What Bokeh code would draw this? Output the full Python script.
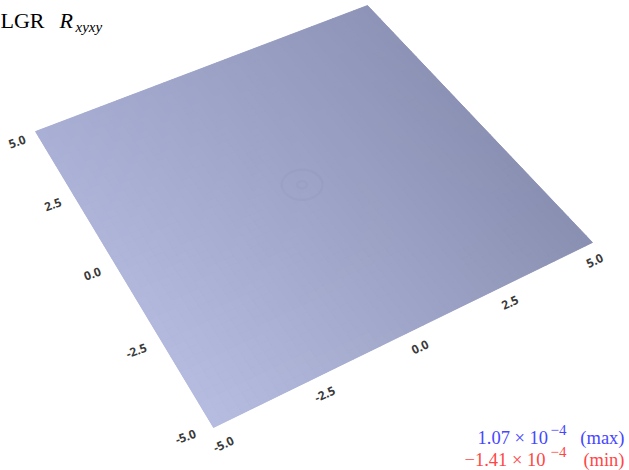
import numpy as np
from bokeh.plotting import figure
from bokeh.models import Range1d
from bokeh.core.properties import value
from bokeh.embed import file_html
from bokeh.resources import INLINE

W, H = 629, 470

# ---------------- data ----------------
x_ticks = [-5.0, -2.5, 0.0, 2.5, 5.0]
y_ticks = [-5.0, -2.5, 0.0, 2.5, 5.0]
x_tick_labels = ["-5.0", "-2.5", "0.0", "2.5", "5.0"]
y_tick_labels = ["-5.0", "-2.5", "0.0", "2.5", "5.0"]
domain_min, domain_max = -5.0, 5.0
title_main = "LGR"
title_sym = "R"
title_sub = "xyxy"
max_mant = "1.07 × 10"
min_mant = "−1.41 × 10"
exp_text = "−4"
max_tag = "(max)"
min_tag = "(min)"
ripple_radii = [0.12, 0.5]
# lighting shade at the four domain corners (x, y) -> rgb
shade_xmin_ymin = (182, 189, 224)
shade_xmax_ymin = (137, 143, 177)
shade_xmax_ymax = (142, 148, 183)
shade_xmin_ymax = (170, 176, 213)

# ---------------- camera (projection of domain corners on the page) ----------------
src = [(domain_min, domain_min), (domain_max, domain_min), (domain_max, domain_max), (domain_min, domain_max)]
dst = [(213, 427), (592, 242), (367, 5), (35, 131)]
A = []
b = []
for (x, y), (X, Y) in zip(src, dst):
    A.append([x, y, 1, 0, 0, 0, -X * x, -X * y]); b.append(X)
    A.append([0, 0, 0, x, y, 1, -Y * x, -Y * y]); b.append(Y)
h = np.linalg.solve(np.array(A, float), np.array(b, float))


def proj(x, y):
    x = np.asarray(x, float); y = np.asarray(y, float)
    d = h[6] * x + h[7] * y + 1.0
    X = (h[0] * x + h[1] * y + h[2]) / d
    Y = (h[3] * x + h[4] * y + h[5]) / d
    return X, H - Y


def shade(x, y):
    s = (x - domain_min) / (domain_max - domain_min)
    t = (y - domain_min) / (domain_max - domain_min)
    c = [(1 - s) * (1 - t) * a + s * (1 - t) * b_ + s * t * c_ + (1 - s) * t * d
         for a, b_, c_, d in zip(shade_xmin_ymin, shade_xmax_ymin, shade_xmax_ymax, shade_xmin_ymax)]
    return "#%02x%02x%02x" % tuple(int(round(v)) for v in c)


p = figure(width=W, height=H, x_range=Range1d(0, W), y_range=Range1d(0, H),
           toolbar_location=None, output_backend="svg", min_border=0)
p.xaxis.visible = False
p.yaxis.visible = False
p.grid.visible = False
p.outline_line_color = None
p.background_fill_color = "white"
p.border_fill_color = "white"

# base of the surface (hides seams between cells)
ox, oy = proj(*zip(*src))
p.patch(list(ox), list(oy), fill_color=shade(0.0, 0.0), line_color=None)

# surface cells
n = 44
edges = np.linspace(domain_min, domain_max, n + 1)
xs, ys, cols = [], [], []
for i in range(n):
    for j in range(n):
        cx = [edges[i], edges[i + 1], edges[i + 1], edges[i]]
        cy = [edges[j], edges[j], edges[j + 1], edges[j + 1]]
        X, Y = proj(cx, cy)
        xs.append(list(X)); ys.append(list(Y))
        cols.append(shade((edges[i] + edges[i + 1]) / 2, (edges[j] + edges[j + 1]) / 2))
p.patches(xs, ys, fill_color=cols, line_color=cols, line_width=0.8)

# faint ripple near origin
th = np.linspace(0, 2 * np.pi, 80)
for r in ripple_radii:
    X, Y = proj(r * np.cos(th), r * np.sin(th))
    p.line(X, Y, line_color="#6f7596", line_alpha=0.08, line_width=2.2)

# tick labels
tick_font = value("Open Sans")
yt = np.array(y_ticks)
lx, ly = proj([domain_min - 0.5] * len(y_ticks), y_ticks)
lx = lx + 0.65 * (yt - domain_max)
ly = ly - 3 + 0.45 * (domain_max - yt)
p.text(lx, ly, text=y_tick_labels, angle=np.deg2rad(20), text_font=tick_font,
       text_font_size=value("12px"), text_color="#3a3a3a", text_font_style="bold",
       text_align="center", text_baseline="middle")
bu = [u - 0.03 * (u - domain_min) for u in x_ticks]
bx, by = proj(bu, [domain_min - 0.45] * len(x_ticks))
p.text(bx, by, text=x_tick_labels, angle=np.deg2rad(25), text_font=tick_font,
       text_font_size=value("12px"), text_color="#3a3a3a", text_font_style="bold",
       text_align="center", text_baseline="middle")

# title
serif = value("Liberation Serif")
p.text([0], [H - 20], text=[title_main], text_font=serif, text_font_size=value("22px"),
       text_color="black", text_align="left", text_baseline="alphabetic")
p.text([59], [H - 20], text=[title_sym], text_font=serif, text_font_size=value("22px"),
       text_font_style="italic", text_color="black", text_align="left", text_baseline="alphabetic")
p.text([75], [H - 26], text=[title_sub], text_font=serif, text_font_size=value("15px"),
       text_font_style="italic", text_color="black", text_align="left", text_baseline="alphabetic")

# extreme values
blue, red = "#4646ff", "#ff4646"
for mant, tag, col, base, x0 in [(max_mant, max_tag, blue, 437, 477), (min_mant, min_tag, red, 459, 464)]:
    p.text([x0], [H - base], text=[mant], text_font=serif, text_font_size=value("18.5px"),
           text_color=col, text_align="left", text_baseline="alphabetic")
    p.text([550], [H - base + 8], text=[exp_text], text_font=serif, text_font_size=value("15px"),
           text_color=col, text_align="left", text_baseline="alphabetic")
    p.text([624], [H - base], text=[tag], text_font=serif, text_font_size=value("18.5px"),
           text_color=col, text_align="right", text_baseline="alphabetic")

open("out.html", "w").write(file_html(p, INLINE))
